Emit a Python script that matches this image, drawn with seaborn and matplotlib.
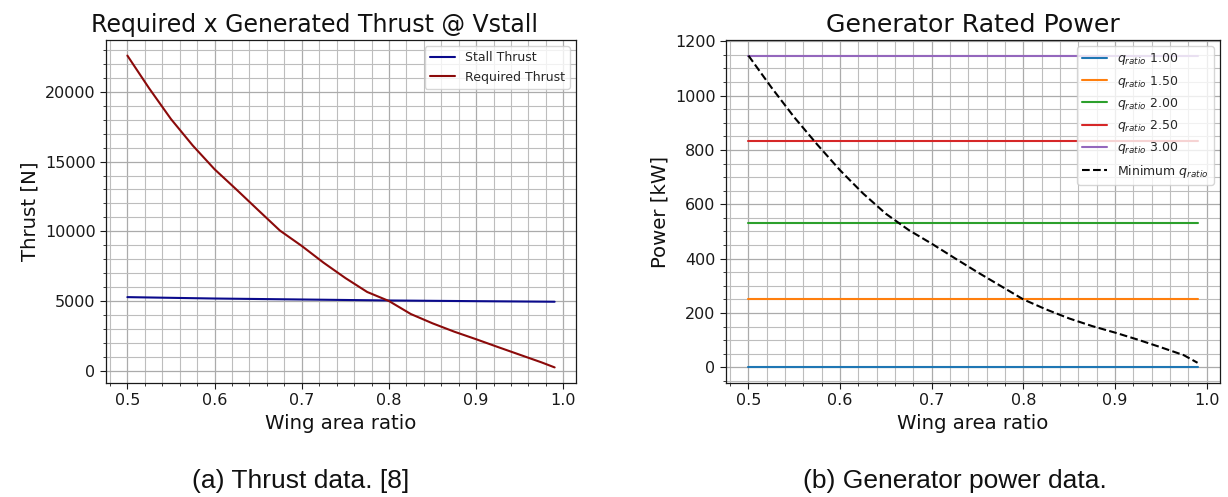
import numpy as np
import pandas as pd
import matplotlib
matplotlib.use("Agg")
import matplotlib.pyplot as plt
from matplotlib.ticker import MultipleLocator
import seaborn as sns

# ---- data ----
thrust_x = [0.500, 0.525, 0.550, 0.575, 0.600, 0.625, 0.650, 0.675, 0.700, 0.725, 0.750,
            0.775, 0.800, 0.825, 0.850, 0.875, 0.900, 0.925, 0.950, 0.975, 0.990]
required_thrust = [22600, 20250, 18050, 16150, 14450, 13000, 11520, 10050, 8950, 7750, 6650,
                   5650, 5000, 4070, 3400, 2800, 2260, 1700, 1150, 600, 240]
stall_x = [0.50, 0.60, 0.70, 0.80, 0.90, 0.99]
stall_thrust = [5280, 5180, 5110, 5040, 4990, 4950]

power_x = [0.500, 0.525, 0.550, 0.575, 0.600, 0.625, 0.650, 0.675, 0.700, 0.725, 0.750,
           0.775, 0.800, 0.825, 0.850, 0.875, 0.900, 0.925, 0.950, 0.975, 0.990]
min_q_power = [1147, 1030, 920, 820, 725, 640, 565, 505, 455, 402, 350,
               300, 250, 213, 180, 152, 128, 102, 74, 45, 17]
q_ratios = [1.00, 1.50, 2.00, 2.50, 3.00]
q_power = [0, 253, 532, 833, 1147]
q_x_range = [0.50, 0.99]

sns.set_style("ticks")
plt.rcParams['font.family'] = ['DejaVu Sans']

fig = plt.figure(figsize=(12.28, 4.97), dpi=100)
ax1 = fig.add_axes([106/1228, 1-383/497, 470/1228, 343/497])
ax2 = fig.add_axes([726/1228, 1-383/497, 494/1228, 343/497])

def style_axes(ax, xminor, ymajor, yminor):
    ax.xaxis.set_major_locator(MultipleLocator(0.1))
    ax.xaxis.set_minor_locator(MultipleLocator(xminor))
    ax.yaxis.set_major_locator(MultipleLocator(ymajor))
    ax.yaxis.set_minor_locator(MultipleLocator(yminor))
    ax.grid(which='major', color='#ababab', linewidth=0.9)
    ax.grid(which='minor', color='#bdbdbd', linewidth=0.8)
    ax.set_axisbelow(True)
    ax.tick_params(which='major', direction='out', length=4, width=0.8, labelsize=11.5,
                   colors='#1a1a1a')
    ax.tick_params(which='minor', direction='out', length=2, width=0.6, colors='#1a1a1a')
    for s in ax.spines.values():
        s.set_color('#1a1a1a')
        s.set_linewidth(0.9)

# left plot
df_stall = pd.DataFrame({"x": stall_x, "y": stall_thrust})
df_req = pd.DataFrame({"x": thrust_x, "y": required_thrust})
sns.lineplot(data=df_stall, x="x", y="y", ax=ax1, color="#0a0a8c", linewidth=1.5, label="Stall Thrust")
sns.lineplot(data=df_req, x="x", y="y", ax=ax1, color="#8b0a0a", linewidth=1.5, label="Required Thrust")
style_axes(ax1, 0.02, 5000, 1000)
ax1.set_title("Required x Generated Thrust @ Vstall", fontsize=17, x=0.443, color='#111111')
ax1.set_xlabel("Wing area ratio", fontsize=14.2, color='#111111')
ax1.set_ylabel("Thrust [N]", fontsize=14.2, color='#111111')
ax1.legend(loc="upper right", fontsize=9, framealpha=0.8)

# right plot
colors = sns.color_palette("tab10", 5)
for q, p, c in zip(q_ratios, q_power, colors):
    d = pd.DataFrame({"x": q_x_range, "y": [p, p]})
    sns.lineplot(data=d, x="x", y="y", ax=ax2, color=c, linewidth=1.5,
                 label=r"$q_{ratio}$ " + f"{q:.2f}")
df_min = pd.DataFrame({"x": power_x, "y": min_q_power})
sns.lineplot(data=df_min, x="x", y="y", ax=ax2, color="black", linewidth=1.5,
             linestyle="--", label=r"Minimum $q_{ratio}$")
style_axes(ax2, 0.02, 200, 50)
ax2.set_title("Generator Rated Power", fontsize=18.2, color='#111111')
ax2.set_xlabel("Wing area ratio", fontsize=14.2, color='#111111')
ax2.set_ylabel("Power [kW]", fontsize=14.2, color='#111111')
ax2.legend(loc="upper right", fontsize=9, framealpha=0.8)

for ax in (ax1, ax2):
    ax.set_xlim(0.4755, 1.0145)

fig.text(301/1228, 1-481/497, "(a) Thrust data. [8]", family="Liberation Sans", fontsize=19,
         ha="center", va="center", color='#111111')
fig.text(955/1228, 1-481/497, "(b) Generator power data.", family="Liberation Sans", fontsize=19,
         ha="center", va="center", color='#111111')

fig.savefig("out.png", dpi=100)
